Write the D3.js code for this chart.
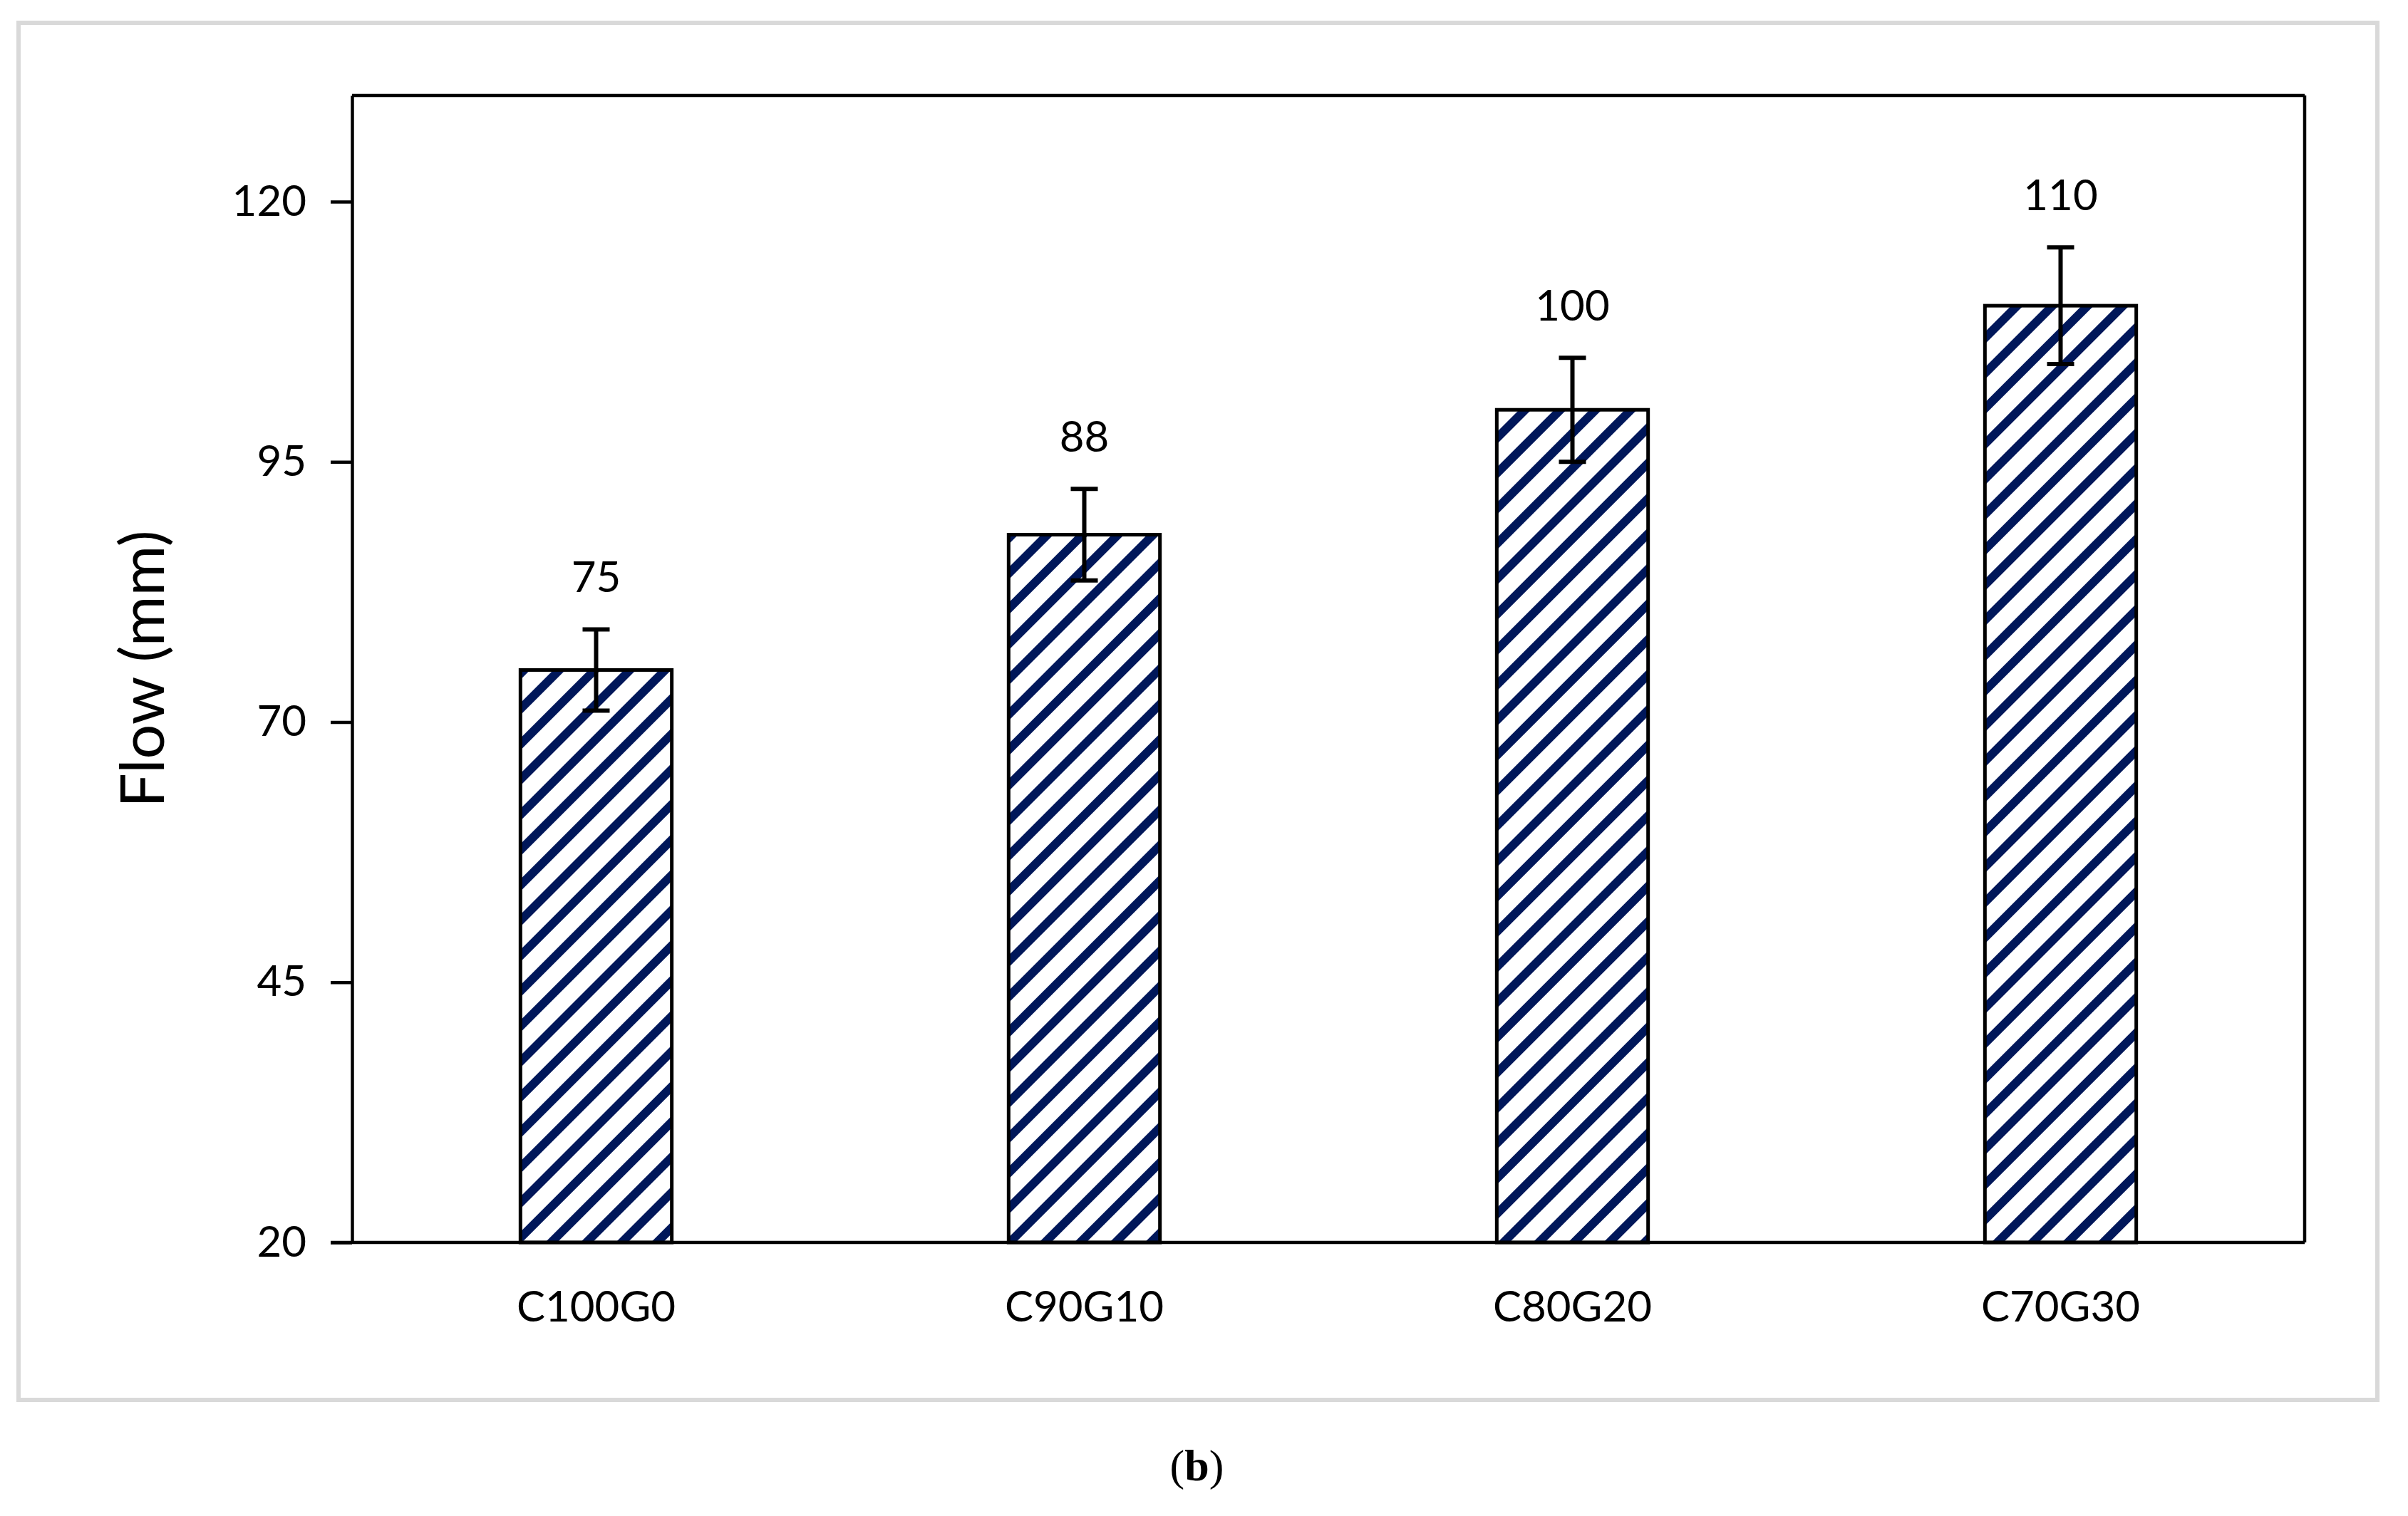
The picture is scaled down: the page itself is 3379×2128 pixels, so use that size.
<!DOCTYPE html>
<html>
<head>
<meta charset="utf-8">
<script src="https://cdn.jsdelivr.net/npm/d3@7"></script>
<style>
  body { margin: 0; background: #fff; }
  text { font-family: Lato, "Open Sans", sans-serif; fill: #000; }
</style>
</head>
<body>
<svg id="chart"></svg>
<script>
// data
const categories = ["C100G0", "C90G10", "C80G20", "C70G30"];
const flowValues = [75, 88, 100, 110];
const flowErrors = [3.9, 4.4, 5.0, 5.6];
const yTicks = [20, 45, 70, 95, 120];

const W = 3379, H = 2128;
const margin = { top: 134, right: 145, bottom: 384, left: 494 };
const width = W - margin.left - margin.right;
const height = H - margin.top - margin.bottom;

const svg = d3.select("#chart").attr("width", W).attr("height", H);

// hatch pattern
const defs = svg.append("defs");
const pat = defs.append("pattern")
    .attr("id", "hatch")
    .attr("patternUnits", "userSpaceOnUse")
    .attr("width", 35).attr("height", 35)
    .attr("patternTransform", "rotate(45)");
pat.append("rect").attr("width", 35).attr("height", 35).attr("fill", "#fff");
pat.append("rect").attr("width", 12).attr("height", 35).attr("fill", "#00175a");

// outer frame
svg.append("rect")
    .attr("x", 26).attr("y", 32).attr("width", 3310).attr("height", 1933)
    .attr("fill", "none").attr("stroke", "#d9d9d9").attr("stroke-width", 6);

const chart = svg.append("g").attr("transform", `translate(${margin.left},${margin.top})`);

const x = d3.scaleBand().domain(categories).range([0, width]).paddingInner(0.69).paddingOuter(0.345);
const y = d3.scaleLinear().domain([20, 130.2]).range([height, 0]);

// bars
chart.selectAll("rect.bar")
    .data(flowValues)
    .join("rect")
    .attr("class", "bar")
    .attr("x", (d, i) => x(categories[i]))
    .attr("width", x.bandwidth())
    .attr("y", d => y(d))
    .attr("height", d => height - y(d))
    .attr("fill", "url(#hatch)")
    .attr("stroke", "#000").attr("stroke-width", 5);

// error bars
const eb = chart.selectAll("g.err").data(flowValues).join("g").attr("class", "err");
const cx = i => x(categories[i]) + x.bandwidth() / 2;
eb.append("line")
    .attr("x1", (d, i) => cx(i)).attr("x2", (d, i) => cx(i))
    .attr("y1", (d, i) => y(d + flowErrors[i])).attr("y2", (d, i) => y(d - flowErrors[i]))
    .attr("stroke", "#000").attr("stroke-width", 6);
[1, -1].forEach(s => {
  eb.append("line")
    .attr("x1", (d, i) => cx(i) - 19).attr("x2", (d, i) => cx(i) + 19)
    .attr("y1", (d, i) => y(d + s * flowErrors[i])).attr("y2", (d, i) => y(d + s * flowErrors[i]))
    .attr("stroke", "#000").attr("stroke-width", 6);
});

// value labels
chart.selectAll("text.val")
    .data(flowValues)
    .join("text")
    .attr("class", "val")
    .attr("x", (d, i) => cx(i))
    .attr("y", (d, i) => y(d + flowErrors[i]) - 52)
    .attr("text-anchor", "middle")
    .attr("font-size", 60)
    .text(d => d);

// axes
const yAxis = chart.append("g")
    .call(d3.axisLeft(y).tickValues(yTicks).tickSize(30).tickSizeOuter(0).tickPadding(34));
yAxis.selectAll("text").attr("font-size", 60);
yAxis.selectAll("line").attr("stroke-width", 4.5);
yAxis.select(".domain").attr("stroke-width", 4.5);

const xAxis = chart.append("g")
    .attr("transform", `translate(0,${height})`)
    .call(d3.axisBottom(x).tickSize(0).tickPadding(68));
xAxis.selectAll("text").attr("font-size", 60);
xAxis.select(".domain").remove();
chart.append("line")
    .attr("x1", -30).attr("x2", width).attr("y1", height).attr("y2", height)
    .attr("stroke", "#000").attr("stroke-width", 4.5);

// box top/right
chart.append("line").attr("x1", 0).attr("x2", width).attr("y1", 0).attr("y2", 0)
    .attr("stroke", "#000").attr("stroke-width", 4.5);
chart.append("line").attr("x1", width).attr("x2", width).attr("y1", 0).attr("y2", height)
    .attr("stroke", "#000").attr("stroke-width", 4.5);

// y title
svg.append("text")
    .attr("transform", `translate(230,${margin.top + height / 2}) rotate(-90)`)
    .attr("text-anchor", "middle")
    .attr("font-size", 86)
    .text("Flow (mm)");

// caption
svg.append("text")
    .attr("x", W / 2 - 10).attr("y", 2078)
    .attr("text-anchor", "middle")
    .attr("font-size", 62)
    .style("font-family", "'Liberation Serif', 'DejaVu Serif', serif")
    .html('(<tspan font-weight="bold">b</tspan>)');
</script>
</body>
</html>
